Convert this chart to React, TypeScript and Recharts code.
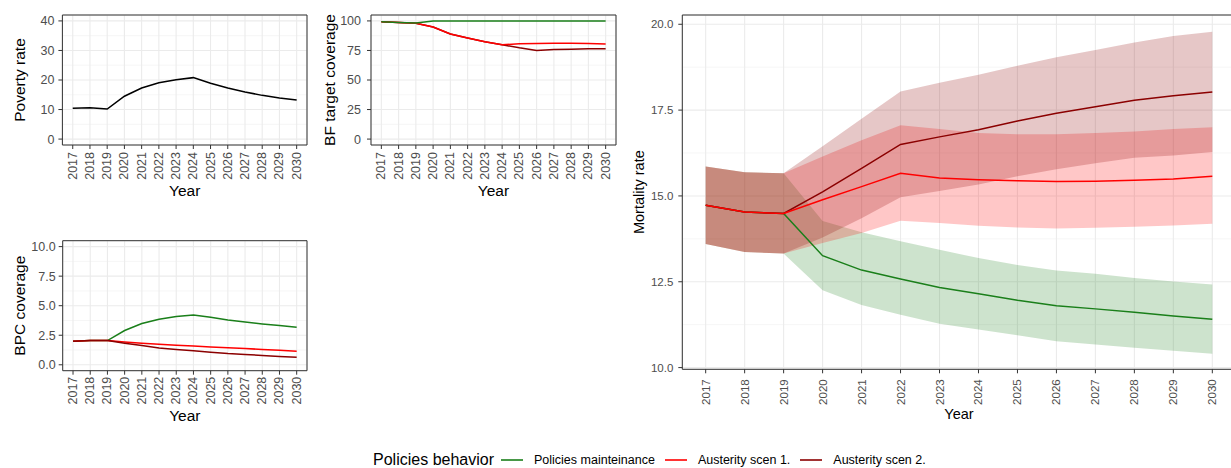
import React from 'react';
import { ComposedChart, Line, Area, XAxis, YAxis, CartesianGrid, ReferenceArea } from 'recharts';

// ---------- data ----------
const years = [2017, 2018, 2019, 2020, 2021, 2022, 2023, 2024, 2025, 2026, 2027, 2028, 2029, 2030];

const seriesNames = ['Policies mainteinance', 'Austerity scen 1.', 'Austerity scen 2.'];
const legendTitle = 'Policies behavior';

const povertyRate = [10.45, 10.6, 10.15, 14.5, 17.3, 19.1, 20.1, 20.8, 18.9, 17.3, 15.95, 14.8, 13.9, 13.25];

const bfMaintenance = [99.2, 98.6, 98.3, 100, 100, 100, 100, 100, 100, 100, 100, 100, 100, 100];
const bfAusterity1 = [99.2, 98.6, 98.0, 94.9, 89.0, 85.5, 82.3, 79.8, 80.6, 80.9, 81.0, 81.0, 80.8, 80.4];
const bfAusterity2 = [99.2, 98.6, 98.0, 94.9, 89.0, 85.5, 82.3, 79.8, 77.2, 75.0, 75.8, 76.1, 76.4, 76.4];

const bpcMaintenance = [2.0, 2.05, 2.05, 2.9, 3.49, 3.86, 4.08, 4.22, 4.03, 3.8, 3.63, 3.46, 3.32, 3.18];
const bpcAusterity1 = [2.0, 2.05, 2.05, 1.93, 1.83, 1.74, 1.66, 1.58, 1.51, 1.44, 1.37, 1.3, 1.22, 1.15];
const bpcAusterity2 = [2.0, 2.05, 2.05, 1.83, 1.63, 1.43, 1.29, 1.18, 1.07, 0.95, 0.87, 0.79, 0.7, 0.64];

const mortMaint = [14.73, 14.53, 14.49, 13.26, 12.84, 12.58, 12.33, 12.15, 11.96, 11.8, 11.71, 11.61, 11.5, 11.41];
const mortMaintLow = [13.6, 13.37, 13.32, 12.25, 11.82, 11.54, 11.28, 11.11, 10.94, 10.77, 10.67, 10.58, 10.49, 10.4];
const mortMaintHigh = [15.86, 15.69, 15.66, 14.27, 13.94, 13.68, 13.43, 13.19, 12.99, 12.83, 12.73, 12.61, 12.51, 12.42];
const mortAus1 = [14.73, 14.53, 14.49, 14.89, 15.27, 15.66, 15.52, 15.47, 15.44, 15.42, 15.43, 15.46, 15.49, 15.57];
const mortAus1Low = [13.6, 13.37, 13.32, 13.63, 13.92, 14.28, 14.21, 14.13, 14.08, 14.05, 14.07, 14.1, 14.14, 14.19];
const mortAus1High = [15.86, 15.69, 15.66, 16.15, 16.62, 17.06, 16.95, 16.83, 16.8, 16.8, 16.83, 16.88, 16.95, 17.0];
const mortAus2 = [14.73, 14.53, 14.49, 15.12, 15.8, 16.5, 16.72, 16.93, 17.18, 17.41, 17.6, 17.79, 17.92, 18.03];
const mortAus2Low = [13.6, 13.37, 13.32, 13.79, 14.35, 14.96, 15.14, 15.33, 15.57, 15.78, 15.95, 16.11, 16.18, 16.28];
const mortAus2High = [15.86, 15.69, 15.66, 16.45, 17.25, 18.04, 18.3, 18.53, 18.79, 19.04, 19.25, 19.47, 19.66, 19.78];

const povertyTicks = [0, 10, 20, 30, 40];
const povertyMinor = [5, 15, 25, 35];
const bfTicks = [0, 25, 50, 75, 100];
const bfMinor = [12.5, 37.5, 62.5, 87.5];
const bpcTicks = [0, 2.5, 5, 7.5, 10];
const bpcMinor = [1.25, 3.75, 6.25, 8.75];
const mortTicks = [10, 12.5, 15, 17.5, 20];
const mortMinor = [11.25, 13.75, 16.25, 18.75];

// ---------- styles ----------
const GREEN = '#1a7f1a';
const RED = '#ff0000';
const DARKRED = '#8b0000';
const colors = [GREEN, RED, DARKRED];
const FONT = '"Liberation Sans", Arial, sans-serif';
const TICK_COLOR = '#4d4d4d';
const X_DOMAIN: [number, number] = [2016.4, 2030.6];

const povertyData = years.map((y, i) => ({ year: y, v: povertyRate[i] }));
const bfData = years.map((y, i) => ({ year: y, m: bfMaintenance[i], a1: bfAusterity1[i], a2: bfAusterity2[i] }));
const bpcData = years.map((y, i) => ({ year: y, m: bpcMaintenance[i], a1: bpcAusterity1[i], a2: bpcAusterity2[i] }));
const mortData = years.map((y, i) => ({
  year: y,
  m: mortMaint[i],
  a1: mortAus1[i],
  a2: mortAus2[i],
  mR: [mortMaintLow[i], mortMaintHigh[i]],
  a1R: [mortAus1Low[i], mortAus1High[i]],
  a2R: [mortAus2Low[i], mortAus2High[i]],
}));

const makeXTick = (fontSize: number) => (props: any) => {
  const { x, y, payload } = props;
  return (
    <text
      x={x}
      y={y}
      transform={`rotate(-90, ${x}, ${y})`}
      textAnchor="end"
      dominantBaseline="central"
      fontSize={fontSize}
      fill={TICK_COLOR}
      fontFamily={FONT}
    >
      {payload.value}
    </text>
  );
};

const makeYTitle = (text: string, baseX: number, fontSize: number) => (props: any) => {
  const vb = props.viewBox || {};
  const cy = vb.y + vb.height / 2;
  return (
    <text
      x={baseX}
      y={cy}
      transform={`rotate(-90, ${baseX}, ${cy})`}
      textAnchor="middle"
      fontSize={fontSize}
      fill="#000"
      fontFamily={FONT}
    >
      {text}
    </text>
  );
};

const makeXTitle = (text: string, baseY: number, fontSize: number) => (props: any) => {
  const vb = props.viewBox || {};
  const cx = vb.x + vb.width / 2;
  return (
    <text x={cx} y={baseY} textAnchor="middle" fontSize={fontSize} fill="#000" fontFamily={FONT}>
      {text}
    </text>
  );
};

type PanelProps = {
  data: any[];
  left: number;
  top: number;
  width: number;
  height: number;
  margin: { top: number; right: number; bottom: number; left: number };
  yWidth: number;
  xHeight: number;
  yDomain: [number, number];
  yTicks: number[];
  yMinor: number[];
  yFmt?: (v: number) => string;
  yTitle: string;
  yTitleX: number;
  xTitleY: number;
  tickFont: number;
  titleFont: number;
  yTickMargin: number;
  xTickMargin: number;
  children: React.ReactNode;
};

const Panel = (p: PanelProps) => (
  <div style={{ position: 'absolute', left: p.left, top: p.top }}>
    <ComposedChart width={p.width} height={p.height} data={p.data} margin={p.margin}>
      <CartesianGrid horizontalValues={p.yMinor} vertical={false} stroke="#f2f2f2" strokeWidth={0.7} />
      <CartesianGrid stroke="#ebebeb" strokeWidth={1.1} />
      <XAxis
        dataKey="year"
        type="number"
        domain={X_DOMAIN}
        ticks={years}
        interval={0}
        allowDataOverflow
        height={p.xHeight}
        tickSize={4}
        tickMargin={p.xTickMargin}
        axisLine={false}
        tickLine={{ stroke: '#333333' }}
        tick={makeXTick(p.tickFont)}
        label={makeXTitle('Year', p.xTitleY, p.titleFont)}
      />
      <YAxis
        type="number"
        domain={p.yDomain}
        ticks={p.yTicks}
        interval={0}
        allowDataOverflow
        width={p.yWidth}
        tickSize={4}
        tickMargin={p.yTickMargin}
        axisLine={false}
        tickLine={{ stroke: '#333333' }}
        tick={{ fill: TICK_COLOR, fontSize: p.tickFont, fontFamily: FONT }}
        tickFormatter={p.yFmt}
        label={makeYTitle(p.yTitle, p.yTitleX, p.titleFont)}
      />
      {p.children}
      <ReferenceArea
        x1={X_DOMAIN[0]}
        x2={X_DOMAIN[1]}
        y1={p.yDomain[0]}
        y2={p.yDomain[1]}
        fill="none"
        stroke="#333333"
        strokeWidth={1}
        ifOverflow="visible"
      />
    </ComposedChart>
  </div>
);

const lineProps = { type: 'linear' as const, dot: false, activeDot: false, isAnimationActive: false, strokeWidth: 1.5 };
const areaProps = { type: 'linear' as const, stroke: 'none', fillOpacity: 0.22, isAnimationActive: false, activeDot: false, dot: false };

const Legend = () => (
  <div
    style={{
      position: 'absolute',
      left: 0,
      top: 452,
      width: 1231,
      height: 16,
      fontFamily: FONT,
    }}
  >
    <div style={{ position: 'absolute', right: 1231 - 494, top: 0, fontSize: 16, lineHeight: '16px', color: '#000', whiteSpace: 'nowrap' }}>
      {legendTitle}
    </div>
    <div style={{ position: 'absolute', left: 501, top: 0, display: 'flex', alignItems: 'center', height: 16 }}>
      {seriesNames.map((n, i) => (
        <div key={n} style={{ display: 'flex', alignItems: 'center', marginRight: 10 }}>
          <svg width={22} height={4} style={{ display: 'block' }}>
            <line x1={0} y1={2} x2={22} y2={2} stroke={colors[i]} strokeWidth={1.6} />
          </svg>
          <span style={{ marginLeft: 11, fontSize: 12.5, color: '#000', lineHeight: '16px', whiteSpace: 'nowrap' }}>{n}</span>
        </div>
      ))}
    </div>
  </div>
);

export default function App() {
  const fmt1 = (v: number) => v.toFixed(1);
  return (
    <div
      style={{
        position: 'absolute',
        left: 0,
        top: 0,
        width: 1231,
        height: 468,
        overflow: 'hidden',
        background: '#fff',
        fontFamily: FONT,
      }}
    >
      {/* Poverty rate */}
      <Panel
        data={povertyData}
        left={0}
        top={0}
        width={310}
        height={200}
        margin={{ top: 15, right: 3, bottom: 5, left: 0 }}
        yWidth={62.4}
        xHeight={50}
        yDomain={[-2, 42]}
        yTicks={povertyTicks}
        yMinor={povertyMinor}
        yTitle="Poverty rate"
        yTitleX={25}
        xTitleY={196}
        tickFont={12.5}
        titleFont={15.5}
        yTickMargin={4}
        xTickMargin={3}
      >
        <Line dataKey="v" stroke="#000" {...lineProps} />
      </Panel>

      {/* BF target coverage */}
      <Panel
        data={bfData}
        left={310}
        top={0}
        width={310}
        height={200}
        margin={{ top: 15, right: 4, bottom: 5, left: 0 }}
        yWidth={61}
        xHeight={50}
        yDomain={[-5, 105]}
        yTicks={bfTicks}
        yMinor={bfMinor}
        yTitle="BF target coverage"
        yTitleX={25}
        xTitleY={196}
        tickFont={12.5}
        titleFont={15.5}
        yTickMargin={6}
        xTickMargin={3}
      >
        <Line dataKey="a2" stroke={DARKRED} {...lineProps} />
        <Line dataKey="a1" stroke={RED} {...lineProps} />
        <Line dataKey="m" stroke={GREEN} {...lineProps} />
      </Panel>

      {/* BPC coverage */}
      <Panel
        data={bpcData}
        left={0}
        top={220}
        width={310}
        height={205}
        margin={{ top: 20.7, right: 3, bottom: 0, left: 0 }}
        yWidth={62.7}
        xHeight={54.3}
        yDomain={[-0.5, 10.5]}
        yTicks={bpcTicks}
        yMinor={bpcMinor}
        yFmt={fmt1}
        yTitle="BPC coverage"
        yTitleX={25}
        xTitleY={200.5}
        tickFont={12.5}
        titleFont={15.5}
        yTickMargin={3}
        xTickMargin={2}
      >
        <Line dataKey="m" stroke={GREEN} {...lineProps} />
        <Line dataKey="a1" stroke={RED} {...lineProps} />
        <Line dataKey="a2" stroke={DARKRED} {...lineProps} />
      </Panel>

      {/* Mortality rate */}
      <Panel
        data={mortData}
        left={620}
        top={0}
        width={620}
        height={432}
        margin={{ top: 15, right: 4.3, bottom: 0, left: 0 }}
        yWidth={62.3}
        xHeight={62.7}
        yDomain={[9.95, 20.27]}
        yTicks={mortTicks}
        yMinor={mortMinor}
        yFmt={fmt1}
        yTitle="Mortality rate"
        yTitleX={24}
        xTitleY={419}
        tickFont={11.5}
        titleFont={14.5}
        yTickMargin={5}
        xTickMargin={6}
      >
        <Area dataKey="mR" fill={GREEN} {...areaProps} />
        <Area dataKey="a1R" fill={RED} {...areaProps} />
        <Area dataKey="a2R" fill={DARKRED} {...areaProps} />
        <Line dataKey="m" stroke={GREEN} {...lineProps} />
        <Line dataKey="a2" stroke={DARKRED} {...lineProps} />
        <Line dataKey="a1" stroke={RED} {...lineProps} />
      </Panel>

      <Legend />
    </div>
  );
}
